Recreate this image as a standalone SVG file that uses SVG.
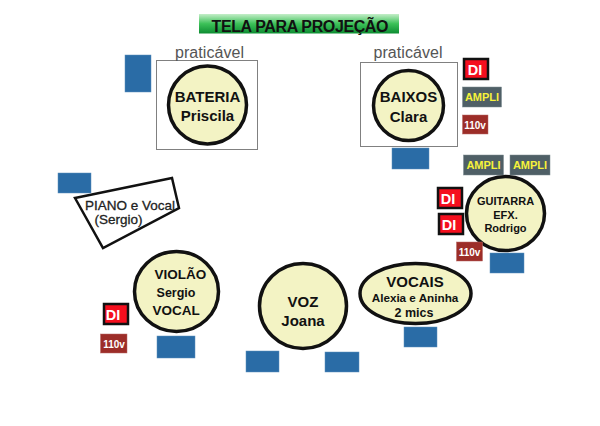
<svg xmlns="http://www.w3.org/2000/svg" width="600" height="426" viewBox="0 0 600 426">
<style>
text{font-family:"Liberation Sans",Arial,sans-serif;text-anchor:middle;fill:#111}
.b{font-weight:bold}
.seat{fill:#f3f3c4;stroke:#111;stroke-width:3.5}
.stage{fill:#fff;stroke:#808080;stroke-width:1}
.blue{fill:#2a6ca6;stroke:#5c8fbc;stroke-width:.5}
.di{fill:#f50f1e;stroke:#111;stroke-width:2.5}
.dit{fill:#fff;font-weight:bold;font-size:14.5px}
.amp{fill:#4f5f66;stroke:#7b8a90;stroke-width:.5}
.ampt{fill:#f6f23a;font-weight:bold;font-size:11px}
.v{fill:#9c2d28;stroke:#b86a64;stroke-width:.5}
.vt{fill:#fff;font-weight:bold;font-size:10px}
.pr{font-size:16px;fill:#555}
.pn{font-size:13.500px;fill:#222;stroke:#222;stroke-width:.3}
</style>
<defs>
<linearGradient id="g" x1="0" y1="0" x2="0" y2="1"><stop offset="0" stop-color="#c4eec8"/><stop offset=".5" stop-color="#3cc158"/><stop offset="1" stop-color="#0d8c32"/></linearGradient>
</defs>
<g id="tela"><rect x="199" y="14" width="200" height="19.500" fill="url(#g)"/><text x="300" y="32" class="b" font-size="16" textLength="177">TELA PARA PROJEÇÃO</text></g>
<g id="bateria">
<rect class="stage" x="156.500" y="60.500" width="101" height="89"/>
<text class="pr" x="209.500" y="58" textLength="69">praticável</text>
<circle class="seat" cx="207.500" cy="105" r="39"/>
<text class="b" x="207.500" y="102" font-size="15">BATERIA</text>
<text class="b" x="207.500" y="121" font-size="15">Priscila</text>
</g>
<g id="baixos">
<rect class="stage" x="360.500" y="62.500" width="97" height="84"/>
<text class="pr" x="408" y="58" textLength="69">praticável</text>
<circle class="seat" cx="408.500" cy="105.500" r="35"/>
<text class="b" x="408.500" y="102" font-size="15">BAIXOS</text>
<text class="b" x="408.500" y="122" font-size="15">Clara</text>
</g>
<g id="guitarra">
<ellipse class="seat" cx="505.500" cy="213.500" rx="39" ry="37"/>
<text class="b" x="505.500" y="205" font-size="11">GUITARRA</text>
<text class="b" x="505.500" y="219" font-size="11">EFX.</text>
<text class="b" x="505.500" y="232" font-size="11">Rodrigo</text>
</g>
<g id="piano">
<polygon points="75,198 172,178 179,208 103,248" fill="#fff" stroke="#111" stroke-width="2.500"/>
<text class="pn" x="130" y="210">PIANO e Vocal</text>
<text class="pn" x="118.500" y="224">(Sergio)</text>
</g>
<g id="violao">
<ellipse class="seat" cx="176.500" cy="291.500" rx="42" ry="40"/>
<text class="b" x="180.500" y="279" font-size="13.500">VIOLÃO</text>
<text class="b" x="176" y="297" font-size="12.500">Sergio</text>
<text class="b" x="176" y="315" font-size="13.500">VOCAL</text>
</g>
<g id="voz">
<ellipse class="seat" cx="303" cy="306" rx="43.500" ry="42.500"/>
<text class="b" x="303" y="307" font-size="15">VOZ</text>
<text class="b" x="303" y="326" font-size="15">Joana</text>
</g>
<g id="vocais">
<ellipse class="seat" cx="415.500" cy="293.500" rx="55.500" ry="30"/>
<text class="b" x="415" y="287" font-size="15">VOCAIS</text>
<text class="b" x="415" y="302" font-size="11.700">Alexia e Aninha</text>
<text class="b" x="414" y="317" font-size="12.500">2 mics</text>
</g>
<g id="blocos">
<rect class="blue" x="125" y="55" width="26" height="37"/>
<rect class="blue" x="392" y="148" width="37" height="21"/>
<rect class="blue" x="490" y="253" width="34" height="20"/>
<rect class="blue" x="58" y="173" width="33" height="20"/>
<rect class="blue" x="157" y="336" width="38" height="22"/>
<rect class="blue" x="404" y="327" width="33" height="20"/>
<rect class="blue" x="246" y="351" width="33" height="21"/>
<rect class="blue" x="325" y="352" width="34" height="20"/>
</g>
<g id="equipamentos">
<rect class="di" x="464" y="59" width="24" height="20"/><text class="dit" x="475" y="75">DI</text>
<rect class="amp" x="462.500" y="87" width="39" height="20"/><text class="ampt" x="482" y="101">AMPLI</text>
<rect class="v" x="462.500" y="115" width="25.500" height="19"/><text class="vt" x="475" y="129">110v</text>
<rect class="amp" x="463.500" y="155" width="40" height="20"/><text class="ampt" x="483.500" y="169">AMPLI</text>
<rect class="amp" x="510" y="155" width="40" height="20"/><text class="ampt" x="530" y="169">AMPLI</text>
<rect class="di" x="438" y="188" width="24" height="20"/><text class="dit" x="448" y="204">DI</text>
<rect class="di" x="439" y="214" width="24" height="20"/><text class="dit" x="449" y="230">DI</text>
<rect class="v" x="456.500" y="242" width="26" height="19"/><text class="vt" x="469.500" y="256">110v</text>
<rect class="di" x="104" y="304" width="24" height="20"/><text class="dit" x="113" y="320">DI</text>
<rect class="v" x="100.500" y="334" width="26.500" height="19"/><text class="vt" x="114" y="348">110v</text>
</g>
<g id="connectors"/>
</svg>
